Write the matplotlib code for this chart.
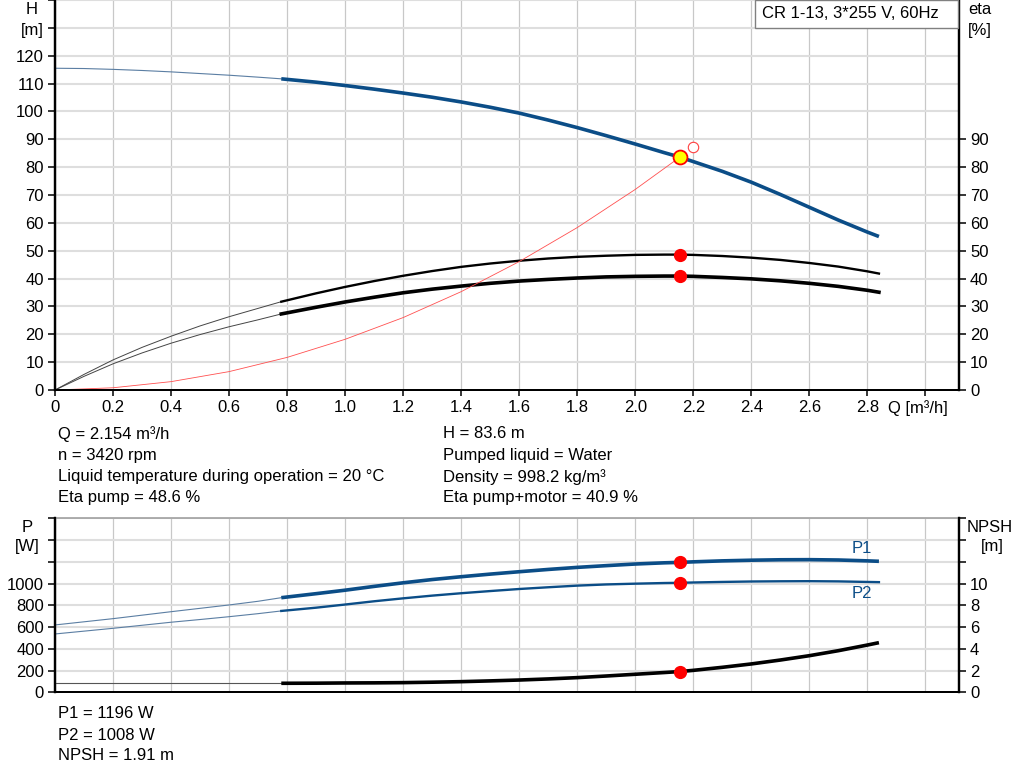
import numpy as np
import matplotlib
matplotlib.use("Agg")
import matplotlib.pyplot as plt
from matplotlib.patches import Rectangle

plt.rcParams['font.family'] = ['Liberation Sans', 'DejaVu Sans']
plt.rcParams['font.size'] = 12

# flow points [m3/h]; thin part below 0.78, thick part above
q_lo = [0.0, 0.1, 0.2, 0.3, 0.4, 0.5, 0.6, 0.7, 0.78]
q_hi = [0.78, 0.9, 1.0, 1.1, 1.2, 1.3, 1.4, 1.5, 1.6, 1.7, 1.8, 1.9, 2.0, 2.1,
        2.154, 2.2, 2.3, 2.4, 2.5, 2.6, 2.7, 2.8, 2.84]

# head [m]
h_lo = [115.5, 115.4, 115.1, 114.7, 114.2, 113.6, 113.0, 112.3, 111.7]
h_hi = [111.7, 110.5, 109.3, 108.0, 106.6, 105.1, 103.4, 101.5, 99.4, 96.9, 94.2, 91.3,
        88.3, 85.2, 83.6, 82.0, 78.5, 74.6, 70.2, 65.6, 61.0, 56.7, 55.1]

# eta pump [%]
eta_p_lo = [0.0, 5.6, 10.8, 15.3, 19.3, 23.0, 26.3, 29.3, 31.7]
eta_p_hi = [31.7, 34.7, 37.0, 39.1, 41.0, 42.7, 44.2, 45.4, 46.4, 47.2, 47.8, 48.2,
            48.5, 48.6, 48.6, 48.5, 48.1, 47.5, 46.7, 45.6, 44.3, 42.6, 41.8]

# eta pump+motor [%]
eta_pm_lo = [0.0, 4.9, 9.4, 13.3, 16.8, 19.9, 22.7, 25.2, 27.3]
eta_pm_hi = [27.3, 29.7, 31.6, 33.3, 34.9, 36.2, 37.3, 38.3, 39.1, 39.7, 40.2, 40.6,
             40.8, 40.9, 40.9, 40.8, 40.4, 39.9, 39.2, 38.3, 37.2, 35.8, 35.1]

# system curve [m]
q_sys = [0.0, 0.2, 0.4, 0.6, 0.8, 1.0, 1.2, 1.4, 1.6, 1.8, 2.0, 2.154]
h_sys = [0.0, 0.8, 3.0, 6.6, 11.7, 18.2, 26.0, 35.3, 46.1, 58.3, 72.0, 83.6]

# power [W]
p1_lo = [620, 649, 678, 710, 742, 773, 804, 838, 871]
p1_hi = [871, 908, 940, 975, 1008, 1038, 1064, 1088, 1110, 1131, 1150, 1166,
         1181, 1192, 1196, 1201, 1210, 1216, 1220, 1221, 1218, 1210, 1206]
p2_lo = [537, 563, 589, 617, 645, 670, 696, 724, 749]
p2_hi = [749, 779, 808, 838, 865, 890, 912, 932, 951, 967, 982, 993,
         1000, 1006, 1008, 1011, 1016, 1020, 1022, 1023, 1021, 1016, 1014]

# NPSH [m]
npsh_lo = [0.83, 0.83, 0.83, 0.83, 0.83, 0.83, 0.83, 0.83, 0.83]
npsh_hi = [0.83, 0.84, 0.86, 0.87, 0.89, 0.93, 0.98, 1.05, 1.13, 1.23, 1.35, 1.50,
           1.66, 1.82, 1.91, 2.02, 2.30, 2.61, 2.97, 3.37, 3.83, 4.35, 4.57]

duty_q = 2.154
duty_h = 83.6
duty_eta_p = 48.6
duty_eta_pm = 40.9
duty_p1 = 1196
duty_p2 = 1008
duty_npsh = 1.91
bep_q, bep_eta = 2.2, 87.3

info_left = ["Q = 2.154 m³/h", "n = 3420 rpm",
             "Liquid temperature during operation = 20 °C", "Eta pump = 48.6 %"]
info_right = ["H = 83.6 m", "Pumped liquid = Water",
              "Density = 998.2 kg/m³", "Eta pump+motor = 40.9 %"]
info_bottom = ["P1 = 1196 W", "P2 = 1008 W", "NPSH = 1.91 m"]

BLUE = "#0b4d87"
THIN_BLUE = "#5b7ea3"
W, H = 1024, 781


def fx(px):
    return px / W


def fy(py):
    return 1 - py / H


def style_axes(ax, twin):
    for a in (ax, twin):
        a.spines['top'].set_visible(False)
        a.spines['left'].set_linewidth(1.6)
        a.spines['right'].set_linewidth(1.6)
        a.spines['bottom'].set_linewidth(1.4)
        a.tick_params(axis='y', length=5, width=1.1, pad=3, labelsize=12)
    ax.tick_params(axis='x', length=4, width=1.1, pad=3, labelsize=12)


def draw_grid(ax, xt, yt):
    for v in xt:
        ax.axvline(v, color="#c8c8c8", lw=0.9, zorder=0)
    for v in yt:
        ax.axhline(v, color="#dedede", lw=1.5, zorder=0)


fig = plt.figure(figsize=(10.24, 7.81), dpi=100)
xmax = 3.116
xt = np.round(np.arange(0, 3.01, 0.2), 1)

# ---- top panel: head and efficiency
ax = fig.add_axes([fx(55), fy(390), fx(904), 390 / H])
ax2 = ax.twinx()
ax.set_xlim(0, xmax)
ax.set_ylim(0, 140)
ax2.set_ylim(0, 140)
draw_grid(ax, xt, range(10, 141, 10))
ax.set_xticks(xt)
ax.set_xticklabels(["0"] + [f"{v:.1f}" for v in xt[1:-1]] + [""])
ax.set_yticks(range(0, 141, 10))
ax.set_yticklabels([str(v) for v in range(0, 121, 10)] + ["", ""])
ax2.set_yticks(range(0, 91, 10))
style_axes(ax, ax2)

ax.plot(q_lo, h_lo, color=THIN_BLUE, lw=0.8)
ax.plot(q_hi, h_hi, color=BLUE, lw=2.6, solid_capstyle='butt')
ax.plot(q_lo, eta_p_lo, color="#444444", lw=0.7)
ax.plot(q_hi, eta_p_hi, color="black", lw=1.7)
ax.plot(q_lo, eta_pm_lo, color="#444444", lw=0.7)
ax.plot(q_hi, eta_pm_hi, color="black", lw=2.6)
ax.plot(q_sys, h_sys, color="#ff5050", lw=0.6)

ax.plot(bep_q, bep_eta, 'o', ms=7.5, mfc="white", mec="#ff4040", mew=0.8, zorder=5)
ax.plot(duty_q, duty_h, 'o', ms=10, mfc="#ffff00", mec="#ff0000", mew=1.3, zorder=6)
ax.plot([duty_q, duty_q], [duty_eta_p, duty_eta_pm], 'o', ms=8.5, color="#ff0000", zorder=6)

# ---- bottom panel: power and NPSH
bx = fig.add_axes([fx(55), fy(692.3), fx(904), 173.8 / H])
bx2 = bx.twinx()
bx.set_xlim(0, xmax)
bx.set_ylim(0, 1600)
bx2.set_ylim(0, 16)
draw_grid(bx, xt, range(200, 1601, 200))
bx.set_xticks(xt)
bx.set_xticklabels([])
bx.set_yticks(range(0, 1601, 200))
bx.set_yticklabels([str(v) for v in range(0, 1001, 200)] + ["", "", ""])
bx2.set_yticks(range(0, 17, 2))
bx2.set_yticklabels([str(v) for v in range(0, 11, 2)] + ["", "", ""])
style_axes(bx, bx2)
bx.tick_params(axis='x', length=0)
bx.spines['top'].set_visible(True)
bx.spines['top'].set_color("#a0a0a0")
bx.spines['top'].set_linewidth(1.2)

bx.plot(q_lo, p1_lo, color=THIN_BLUE, lw=0.8)
bx.plot(q_hi, p1_hi, color=BLUE, lw=2.6, solid_capstyle='butt')
bx.plot(q_lo, p2_lo, color=THIN_BLUE, lw=0.8)
bx.plot(q_hi, p2_hi, color=BLUE, lw=1.7)
bx2.plot(q_lo, npsh_lo, color="#555555", lw=0.8)
bx2.plot(q_hi, npsh_hi, color="black", lw=2.6, solid_capstyle='butt')

bx.plot([duty_q, duty_q], [duty_p1, duty_p2], 'o', ms=8.5, color="#ff0000", zorder=6)
bx2.plot(duty_q, duty_npsh, 'o', ms=8.5, color="#ff0000", zorder=6)
bx.text(2.78, 1320, "P1", color=BLUE, ha='center', va='center', fontsize=12)
bx.text(2.78, 905, "P2", color=BLUE, ha='center', va='center', fontsize=12)

# ---- axis titles and texts
fig.text(fx(32), fy(10), "H", ha='center', va='center')
fig.text(fx(32), fy(30), "[m]", ha='center', va='center')
fig.text(fx(980), fy(10), "eta", ha='center', va='center')
fig.text(fx(980), fy(30), "[%]", ha='center', va='center')
fig.text(fx(27), fy(527), "P", ha='center', va='center')
fig.text(fx(27), fy(546), "[W]", ha='center', va='center')
fig.text(fx(990), fy(527), "NPSH", ha='center', va='center')
fig.text(fx(992), fy(546), "[m]", ha='center', va='center')
fig.text(fx(888), fy(408), "Q [m³/h]", ha='left', va='center')

fig.patches.append(Rectangle((fx(755), fy(28)), fx(203), 28 / H, transform=fig.transFigure,
                             facecolor="white", edgecolor="#808080", lw=1, zorder=10))
fig.text(fx(762), fy(14), "CR 1-13, 3*255 V, 60Hz", ha='left', va='center', zorder=11)

for i, s in enumerate(info_left):
    fig.text(fx(58), fy(434 + i * 21.3), s, ha='left', va='center')
for i, s in enumerate(info_right):
    fig.text(fx(443), fy(434 + i * 21.3), s, ha='left', va='center')
for i, s in enumerate(info_bottom):
    fig.text(fx(58), fy(714 + i * 21), s, ha='left', va='center')

fig.savefig("out.png", dpi=100, facecolor="white")
